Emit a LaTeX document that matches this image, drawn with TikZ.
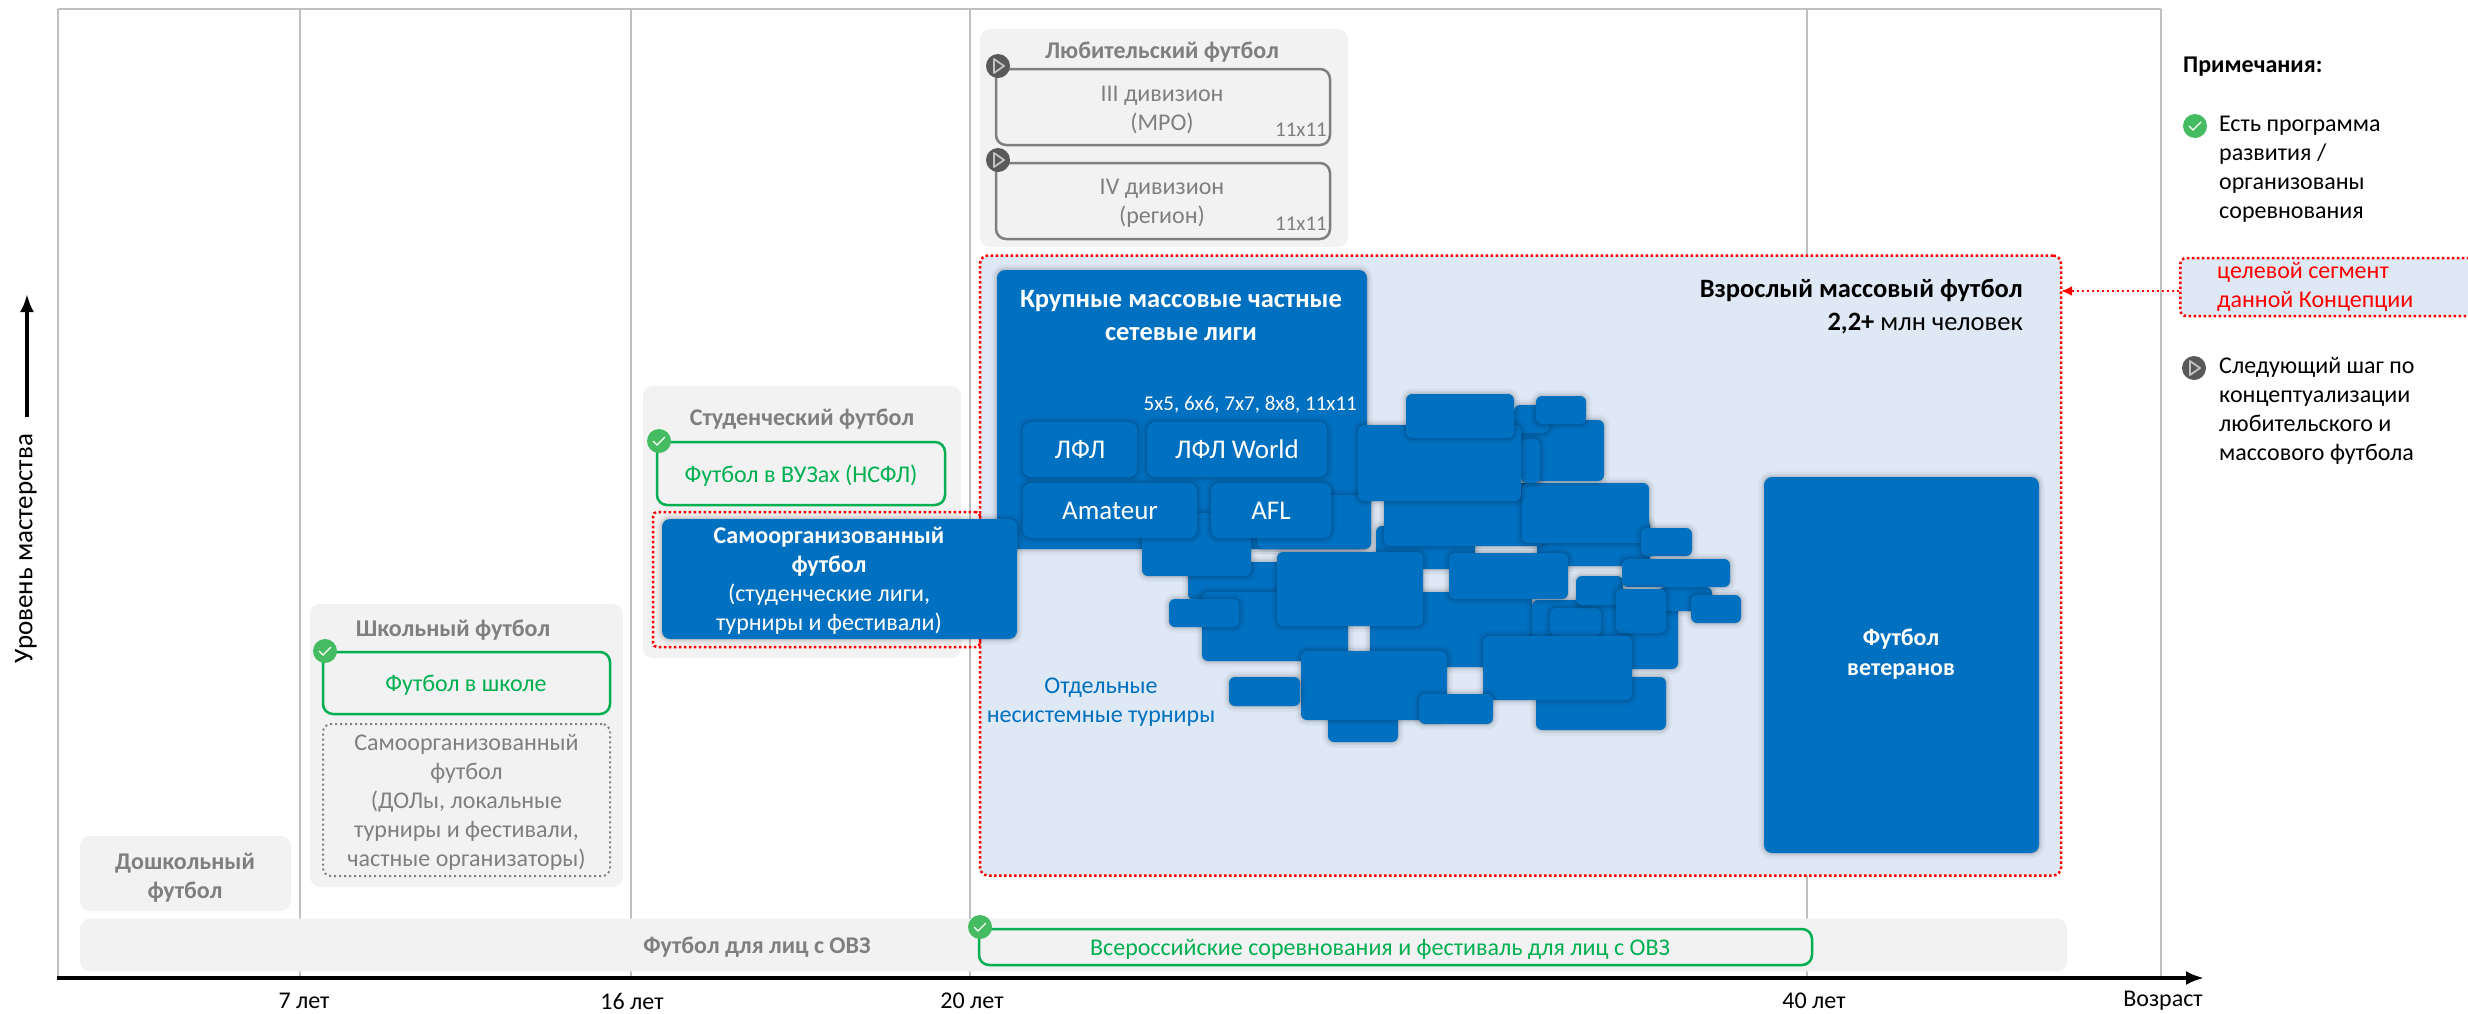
\documentclass[tikz,border=0pt]{standalone}
\usepackage{fontspec}
\setmainfont{Carlito}
\usetikzlibrary{arrows.meta}
\definecolor{boxgray}{HTML}{F2F2F2}
\definecolor{textgray}{HTML}{7F7F7F}
\definecolor{gridgray}{HTML}{BFBFBF}
\definecolor{okgreen}{HTML}{00B050}
\definecolor{okicon}{HTML}{46BC62}
\definecolor{stepicon}{HTML}{595959}
\definecolor{massblue}{HTML}{0070C0}
\definecolor{masslight}{HTML}{DEE9F5}
\tikzset{
  txt/.style={inner sep=0pt,align=center,yshift=-2.5pt,font=\fontsize{24}{29}\selectfont},
  small/.style={txt,font=\fontsize{21}{25}\selectfont},
  graybox/.style={fill=boxgray,rounded corners=10pt,inner sep=0pt},
  head/.style={txt,font=\fontsize{24}{29}\selectfont\bfseries,text=textgray},
  bighead/.style={txt,font=\fontsize{26.5}{33}\selectfont\bfseries},
  greenbox/.style={draw=okgreen,line width=2.5pt,rounded corners=10pt,inner sep=0pt},
  stepbox/.style={draw=textgray,line width=2.5pt,rounded corners=10pt,inner sep=0pt},
  reddots/.style={draw=red,line width=2.5pt,dash pattern=on 2.5pt off 2.5pt},
  block/.style={fill=massblue,rounded corners=8pt,inner sep=0pt,align=center,text=white,font=\fontsize{27}{29}\selectfont,
    preaction={draw=black,opacity=.04,line width=11pt},
    preaction={draw=black,opacity=.06,line width=6pt},
    preaction={draw=black,opacity=.08,line width=2.5pt}},
  okmark/.pic={\fill[okicon] (0,0) circle (12);
    \draw[white,line width=1.2pt] (-6,0) -- (-2,4) -- (6,-4);},
  stepmark/.pic={\fill[stepicon] (0,0) circle (12);
    \draw[boxgray!80!black,line width=1.8pt,line join=round] (-4,-7) -- (6,0) -- (-4,7) -- cycle;},
}
\begin{document}
\begin{tikzpicture}[x=1pt,y=-1pt]
\useasboundingbox (0,0) rectangle (2468,1013);
% grid
\draw[gridgray,line width=1.2pt] (58,9) -- (2161,9);
\foreach \gx in {58,300,631,970,1807,2161}
  \draw[gridgray,line width=1.2pt] (\gx,9) -- (\gx,978);
% gray groups
\node[graybox,minimum width=211pt,minimum height=75pt] (pre) at (185.5,873.5) {};
\node[head] (pretxt) at (185,875) {Дошкольный\\футбол};
\node[graybox,minimum width=313pt,minimum height=283pt] (school) at (466.5,745.5) {};
\node[head] (schooltxt) at (453,628) {Школьный футбол};
\node[greenbox,minimum width=287pt,minimum height=62pt] (school1) at (466.5,683) {};
\node[txt,text=okgreen] (school1txt) at (466,683) {Футбол в школе};
\node[draw=textgray,line width=2pt,dash pattern=on 2pt off 3pt,rounded corners=8pt,inner sep=0pt,minimum width=287pt,minimum height=152pt] (school2) at (466.5,800) {};
\node[txt,text=textgray] (school2txt) at (466.5,800) {Самоорганизованный\\футбол\\(ДОЛы, локальные\\турниры и фестивали,\\частные организаторы)};
\pic at (325,651) {okmark};
\node[graybox,minimum width=318pt,minimum height=272pt] (student) at (802,522) {};
\node[head] (studenttxt) at (802,417) {Студенческий футбол};
\node[greenbox,minimum width=288pt,minimum height=63pt] (student1) at (801,473.5) {};
\node[txt,text=okgreen] (student1txt) at (801,473.5) {Футбол в ВУЗах (НСФЛ)};
\pic at (659,441) {okmark};
\node[graybox,minimum width=368pt,minimum height=218pt] (amateur) at (1164,138) {};
\node[head] (amateurtxt) at (1162,50) {Любительский футбол};
\node[stepbox,minimum width=334pt,minimum height=76pt] (div3) at (1163,107) {};
\node[txt,text=textgray] (div3txt) at (1162,107) {III дивизион\\(МРО)};
\node[stepbox,minimum width=334pt,minimum height=76pt] (div4) at (1163,201) {};
\node[txt,text=textgray] (div4txt) at (1162,201) {IV дивизион\\(регион)};
\node[small,text=textgray,anchor=east] (div3n) at (1327,127) {11x11};
\node[small,text=textgray,anchor=east] (div4n) at (1327,221) {11x11};
\pic at (998,66) {stepmark};
\pic at (998,160) {stepmark};
\node[graybox,minimum width=1987pt,minimum height=53pt] (ovz) at (1073.5,945) {};
\node[head] (ovztxt) at (757,945) {Футбол для лиц с ОВЗ};
\node[greenbox,minimum width=833pt,minimum height=36pt] (ovz1) at (1395.5,947) {};
\node[txt,text=okgreen] (ovz1txt) at (1380,947) {Всероссийские соревнования и фестиваль для лиц с ОВЗ};
\pic at (980,927) {okmark};
% target segment
\node[reddots,fill=masslight,rounded corners=8pt,inner sep=0pt,minimum width=1081pt,minimum height=620pt] (adult) at (1520.5,565.5) {};
\node[reddots,rounded corners=4pt,inner sep=0pt,minimum width=327pt,minimum height=135pt] (selfframe) at (816.5,579.5) {};
\node[bighead,anchor=east] (adulttxt) at (2023,288) {Взрослый массовый футбол};
\node[txt,anchor=east,font=\fontsize{26.5}{33}\selectfont] (adultnum) at (2023,321) {\textbf{2,2+} млн человек};
\node[txt,text=massblue] (single) at (1101,699.5) {Отдельные\\несистемные турниры};
% leagues
\node[block,minimum width=370pt,minimum height=279pt] (league) at (1182,409.5) {};
\node[bighead,text=white] (leaguetxt) at (1181,312.5) {Крупные массовые частные\\сетевые лиги};
\node[small,text=white,anchor=east] (formats) at (1357,402) {5x5, 6x6, 7x7, 8x8, 11x11};
% separate tournaments, back to front
\foreach \cx/\cy/\w/\h [count=\i] in {
  1237.5/581/99/38, 1275/626.5/146/69, 1204/613/70/28, 1196.5/544.5/109/63, 1314/522/114/54,
  1425.5/547.5/99/43, 1593.5/543/113/46, 1464/514.5/160/63, 1585.5/513/127/60, 1666.5/542/51/28,
  1562.5/450.5/83/61, 1530.5/461/19/44, 1531.5/419/35/28, 1439.5/463/163/76, 1460/416/108/44, 1561/410/50/28,
  1451/629.5/162/75, 1605/634.5/146/69, 1575.5/622/51/28, 1599.5/590.5/47/29, 1685.5/599/53/24,
  1716/609/50/28, 1676/573/108/28, 1641/611/50/44, 1508.5/576/119/46, 1350/589/146/74,
  1601/703.5/130/53, 1557.5/668/149/64, 1363/716/70/52, 1374/685.5/146/69, 1456/709/74/30, 1264.5/691.5/71/29}
  \node[block,rounded corners=6pt,minimum width=\w pt,minimum height=\h pt] (t\i) at (\cx,\cy) {};
\node[block,minimum width=114pt,minimum height=55pt] (lfl) at (1080,449.5) {ЛФЛ};
\node[block,minimum width=180pt,minimum height=55pt] (world) at (1237,449.5) {ЛФЛ World};
\node[block,minimum width=174pt,minimum height=55pt] (amat) at (1110,510.5) {Amateur};
\node[block,minimum width=120pt,minimum height=55pt] (afl) at (1271,510.5) {AFL};
\node[block,minimum width=355pt,minimum height=120pt] (selforg) at (839.5,579) {};
\node[txt,text=white] (selforgtxt) at (829,578) {\textbf{Самоорганизованный}\\\textbf{футбол}\\(студенческие лиги,\\турниры и фестивали)};
\node[block,minimum width=275pt,minimum height=376pt] (veterans) at (1901.5,665) {};
\node[txt,text=white,font=\fontsize{24}{30}\selectfont\bfseries] (veteranstxt) at (1901,652) {Футбол\\ветеранов};
% notes
\node[txt,anchor=west,font=\fontsize{24}{29}\selectfont\bfseries] (notes) at (2183,64) {Примечания:};
\pic at (2195,126) {okmark};
\node[txt,anchor=north west,align=left] (note1) at (2219,113) {Есть программа\\развития /\\организованы\\соревнования};
\node[reddots,fill=masslight,rounded corners=6pt,inner sep=0pt,anchor=west,minimum width=300pt,minimum height=58pt] (target) at (2179,287) {};
\node[txt,anchor=west,align=left,text=red] (targettxt) at (2217,284.5) {целевой сегмент\\данной Концепции};
\pic at (2194,368) {stepmark};
\node[txt,anchor=north west,align=left] (note2) at (2219,355) {Следующий шаг по\\концептуализации\\любительского и\\массового футбола};
\coordinate (a1) at (2179,291);
\coordinate (a2) at (2061,291);
\draw[reddots,-{Latex[length=11pt,width=10pt,fill=red]}] (a1) -- (a2);
% axes
\coordinate (o1) at (57,978);
\coordinate (o2) at (2204,978);
\draw[black,line width=3.5pt,-{Latex[length=18pt,width=14pt]}] (o1) -- (o2);
\coordinate (o3) at (27,417);
\coordinate (o4) at (27,294);
\draw[black,line width=3.5pt,-{Latex[length=18pt,width=14pt]}] (o3) -- (o4);
\node[txt,rotate=90,font=\fontsize{27}{29}\selectfont] (ylab) at (26,546) {Уровень мастерства};
\node[txt] (age7) at (304,998.5) {7 лет};
\node[txt] (age16) at (632,998.5) {16 лет};
\node[txt] (age20) at (972,998.5) {20 лет};
\node[txt] (age40) at (1814,998.5) {40 лет};
\node[txt] (age) at (2163,998.5) {Возраст};
\end{tikzpicture}
\end{document}
